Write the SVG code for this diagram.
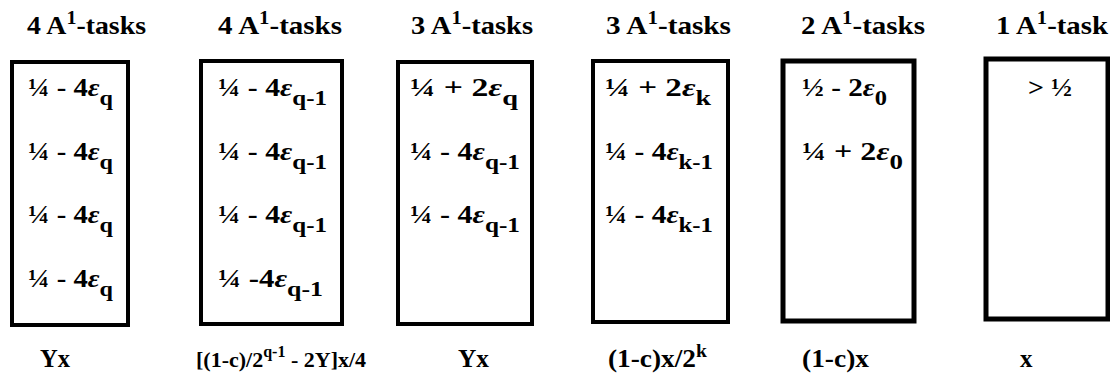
<svg xmlns="http://www.w3.org/2000/svg" width="1110" height="381" viewBox="0 0 1110 381">
<style>
.bg{fill:#fff}
.box{fill:none;stroke:#000;stroke-width:4}
.box2{fill:none;stroke:#000;stroke-width:5}
.h{font-size:25px}
.r{font-size:25px}
.f{font-size:25px}
.f2{font-size:22px}
.sup{font-size:18px}
.sup2{font-size:16px}
.sub{font-size:21px}
.e{font-style:italic}
</style>
<rect class="bg" x="0" y="0" width="1110" height="381"/>
<g font-family="'Liberation Serif', 'Times New Roman', 'DejaVu Serif', serif" font-weight="bold" fill="#000">
<g id="col1">
<text class="h" x="27" y="34" textLength="119" lengthAdjust="spacingAndGlyphs">4 A<tspan class="sup" dy="-10">1</tspan><tspan dy="10">-tasks</tspan></text>
<rect class="box" x="12" y="62" width="116" height="263"/>
<text class="r" x="28" y="96" textLength="85" lengthAdjust="spacingAndGlyphs">¼ - 4<tspan class="e">ε</tspan><tspan class="sub" dy="9">q</tspan></text>
<text class="r" x="28" y="160" textLength="85" lengthAdjust="spacingAndGlyphs">¼ - 4<tspan class="e">ε</tspan><tspan class="sub" dy="9">q</tspan></text>
<text class="r" x="28" y="223" textLength="85" lengthAdjust="spacingAndGlyphs">¼ - 4<tspan class="e">ε</tspan><tspan class="sub" dy="9">q</tspan></text>
<text class="r" x="28" y="287" textLength="85" lengthAdjust="spacingAndGlyphs">¼ - 4<tspan class="e">ε</tspan><tspan class="sub" dy="9">q</tspan></text>
<text class="f" x="40" y="367" textLength="30" lengthAdjust="spacingAndGlyphs">Yx</text>
</g>

<g id="col2">
<text class="h" x="218" y="34" textLength="124" lengthAdjust="spacingAndGlyphs">4 A<tspan class="sup" dy="-10">1</tspan><tspan dy="10">-tasks</tspan></text>
<rect class="box" x="201" y="61" width="141" height="263"/>
<text class="r" x="218" y="96" textLength="109" lengthAdjust="spacingAndGlyphs">¼ - 4<tspan class="e">ε</tspan><tspan class="sub" dy="9">q-1</tspan></text>
<text class="r" x="218" y="160" textLength="109" lengthAdjust="spacingAndGlyphs">¼ - 4<tspan class="e">ε</tspan><tspan class="sub" dy="9">q-1</tspan></text>
<text class="r" x="218" y="223" textLength="109" lengthAdjust="spacingAndGlyphs">¼ - 4<tspan class="e">ε</tspan><tspan class="sub" dy="9">q-1</tspan></text>
<text class="r" x="218" y="287" textLength="105" lengthAdjust="spacingAndGlyphs">¼ -4<tspan class="e">ε</tspan><tspan class="sub" dy="9">q-1</tspan></text>
<text class="f2" x="196" y="367">[(1-c)/2<tspan class="sup2" dy="-10">q-1</tspan><tspan dy="10"> - 2Y]x/4</tspan></text>
</g>

<g id="col3">
<text class="h" x="411" y="34" textLength="122" lengthAdjust="spacingAndGlyphs">3 A<tspan class="sup" dy="-10">1</tspan><tspan dy="10">-tasks</tspan></text>
<rect class="box" x="398" y="62" width="134" height="262"/>
<text class="r" x="410" y="96" textLength="108" lengthAdjust="spacingAndGlyphs">¼ + 2<tspan class="e">ε</tspan><tspan class="sub" dy="9">q</tspan></text>
<text class="r" x="410" y="160" textLength="110" lengthAdjust="spacingAndGlyphs">¼ - 4<tspan class="e">ε</tspan><tspan class="sub" dy="9">q-1</tspan></text>
<text class="r" x="410" y="223" textLength="110" lengthAdjust="spacingAndGlyphs">¼ - 4<tspan class="e">ε</tspan><tspan class="sub" dy="9">q-1</tspan></text>
<text class="f" x="458" y="367" textLength="31" lengthAdjust="spacingAndGlyphs">Yx</text>
</g>

<g id="col4">
<text class="h" x="606" y="34" textLength="125" lengthAdjust="spacingAndGlyphs">3 A<tspan class="sup" dy="-10">1</tspan><tspan dy="10">-tasks</tspan></text>
<rect class="box" x="593" y="61" width="135" height="261"/>
<text class="r" x="605" y="96" textLength="106" lengthAdjust="spacingAndGlyphs">¼ + 2<tspan class="e">ε</tspan><tspan class="sub" dy="9">k</tspan></text>
<text class="r" x="605" y="160" textLength="108" lengthAdjust="spacingAndGlyphs">¼ - 4<tspan class="e">ε</tspan><tspan class="sub" dy="9">k-1</tspan></text>
<text class="r" x="605" y="223" textLength="108" lengthAdjust="spacingAndGlyphs">¼ - 4<tspan class="e">ε</tspan><tspan class="sub" dy="9">k-1</tspan></text>
<text class="f" x="608" y="367" textLength="99" lengthAdjust="spacingAndGlyphs">(1-c)x/2<tspan class="sup" dy="-10">k</tspan></text>
</g>

<g id="col5">
<text class="h" x="801" y="34" textLength="124" lengthAdjust="spacingAndGlyphs">2 A<tspan class="sup" dy="-10">1</tspan><tspan dy="10">-tasks</tspan></text>
<rect class="box2" x="783" y="61" width="131" height="260"/>
<text class="r" x="802" y="96" textLength="85" lengthAdjust="spacingAndGlyphs">½ - 2<tspan class="e">ε</tspan><tspan class="sub" dy="9">0</tspan></text>
<text class="r" x="802" y="160" textLength="101" lengthAdjust="spacingAndGlyphs">¼ + 2<tspan class="e">ε</tspan><tspan class="sub" dy="9">0</tspan></text>
<text class="f" x="802" y="367" textLength="67" lengthAdjust="spacingAndGlyphs">(1-c)x</text>
</g>

<g id="col6">
<text class="h" x="996" y="34" textLength="112" lengthAdjust="spacingAndGlyphs">1 A<tspan class="sup" dy="-10">1</tspan><tspan dy="10">-task</tspan></text>
<rect class="box2" x="986" y="59" width="122" height="260"/>
<text class="r" x="1028" y="96" textLength="44" lengthAdjust="spacingAndGlyphs">&gt; ½</text>
<text class="f" x="1020" y="367">x</text>
</g>
</g>
</svg>
